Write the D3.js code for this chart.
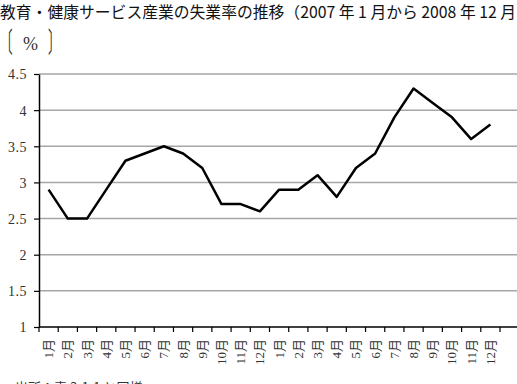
<!DOCTYPE html>
<html>
<head>
<meta charset="utf-8">
<script src="https://cdn.jsdelivr.net/npm/d3@7"></script>
<style>
  body { margin: 0; background: #fff; }
  svg { display: block; }
</style>
</head>
<body>
<script>
'use strict';

// months, two years (2007, 2008)
let months = ["1月", "2月", "3月", "4月", "5月", "6月", "7月", "8月", "9月", "10月", "11月", "12月",
              "1月", "2月", "3月", "4月", "5月", "6月", "7月", "8月", "9月", "10月", "11月", "12月"];
let rates = [2.9, 2.5, 2.5, 2.9, 3.3, 3.4, 3.5, 3.4, 3.2, 2.7, 2.7, 2.6,
             2.9, 2.9, 3.1, 2.8, 3.2, 3.4, 3.9, 4.3, 4.1, 3.9, 3.6, 3.8];
let yTicks = [1, 1.5, 2, 2.5, 3, 3.5, 4, 4.5];
let yTickLabels = ["1", "1.5", "2", "2.5", "3", "3.5", "4", "4.5"];

let title = "教育・健康サービス産業の失業率の推移（2007 年 1 月から 2008 年 12 月";
let unitLabel = "%";
let sourceNote = "出所：表 3-1-1 と同様";

(function() {
  let width = 517, height = 384;
  let plotLeft = 39, plotRight = 500, plotTop = 74, plotBottom = 327;
  let serif = "'Liberation Serif', 'DejaVu Serif', serif";

  let svg = d3.select("body").append("svg")
    .attr("width", width)
    .attr("height", height);

  let idx = d3.range(months.length);

  let x = d3.scaleBand()
    .domain(idx)
    .range([plotLeft, plotRight]);

  let y = d3.scaleLinear()
    .domain([1, 4.5])
    .range([plotBottom, plotTop]);

  // gridlines
  svg.append("g")
    .selectAll("line")
    .data(yTicks.slice(1))
    .enter()
    .append("line")
      .attr("x1", plotLeft)
      .attr("x2", width)
      .attr("y1", (d) => y(d))
      .attr("y2", (d) => y(d))
      .attr("stroke", "#a6a6a6")
      .attr("stroke-width", 1.5);

  // y axis
  let yAxis = d3.axisLeft(y)
    .tickValues(yTicks)
    .tickFormat((d, i) => yTickLabels[i])
    .tickSize(5)
    .tickSizeOuter(0);

  let gy = svg.append("g")
    .attr("transform", "translate(" + plotLeft + ",0)")
    .call(yAxis);
  gy.attr("font-family", serif);
  gy.select(".domain").attr("stroke", "#000").attr("stroke-width", 1.5);
  gy.selectAll(".tick line").attr("stroke", "#000").attr("stroke-width", 1.2);
  gy.selectAll(".tick text")
    .attr("x", -12)
    .attr("dy", "0.35em")
    .style("font-family", serif)
    .style("font-size", "14px")
    .style("letter-spacing", "0.5px")
    .attr("fill", "#333");

  // x axis line
  svg.append("line")
    .attr("x1", plotLeft)
    .attr("x2", width)
    .attr("y1", y(1))
    .attr("y2", y(1))
    .attr("stroke", "#000")
    .attr("stroke-width", 1.5);

  // x ticks at band edges
  let edges = idx.map((i) => x(i)).concat([x(idx[idx.length - 1]) + x.bandwidth()]);
  svg.append("g")
    .selectAll("line")
    .data(edges)
    .enter()
    .append("line")
      .attr("x1", (d) => d)
      .attr("x2", (d) => d)
      .attr("y1", y(1))
      .attr("y2", y(1) + 5)
      .attr("stroke", "#000")
      .attr("stroke-width", 1.2);

  // x labels, rotated
  svg.append("g")
    .selectAll("text")
    .data(idx)
    .enter()
    .append("text")
      .attr("transform", (d) => "translate(" + (x(d) + x.bandwidth() / 2 + 4.5) + "," + (y(1) + 12) + ")rotate(-90)")
      .attr("text-anchor", "end")
      .style("font-family", serif + ", 'Noto Sans CJK JP'")
      .style("font-size", "13px")
      .attr("fill", "#333")
      .text((d) => months[d]);

  // data line
  let line = d3.line()
    .x((d) => x(d) + x.bandwidth() / 2)
    .y((d) => y(rates[d]));

  svg.append("path")
    .datum(idx)
    .attr("fill", "none")
    .attr("stroke", "#000")
    .attr("stroke-width", 2.5)
    .attr("stroke-linejoin", "round")
    .attr("d", line);

  // title
  svg.append("text")
    .attr("x", 0)
    .attr("y", 17.5)
    .style("font-family", "'Noto Sans CJK JP', sans-serif")
    .style("font-size", "15.8px")
    .attr("fill", "#111")
    .text(title);

  // unit label: tall thin brackets round the %
  svg.append("text")
    .attr("transform", "translate(0,53)scale(0.45,1)")
    .style("font-family", "'Noto Sans CJK JP', serif")
    .style("font-size", "28px")
    .attr("fill", "#333")
    .text("〔");
  svg.append("text")
    .attr("x", 23)
    .attr("y", 50)
    .style("font-family", serif)
    .style("font-size", "18px")
    .attr("fill", "#333")
    .text(unitLabel);
  svg.append("text")
    .attr("transform", "translate(48,53)scale(0.45,1)")
    .style("font-family", "'Noto Sans CJK JP', serif")
    .style("font-size", "28px")
    .attr("fill", "#333")
    .text("〕");

  // source note (cut off at the bottom, as in the original)
  svg.append("text")
    .attr("x", 15)
    .attr("y", 392)
    .style("font-family", "'Noto Sans CJK JP', serif")
    .style("font-size", "13px")
    .attr("fill", "#333")
    .text(sourceNote);
})();
</script>
</body>
</html>
